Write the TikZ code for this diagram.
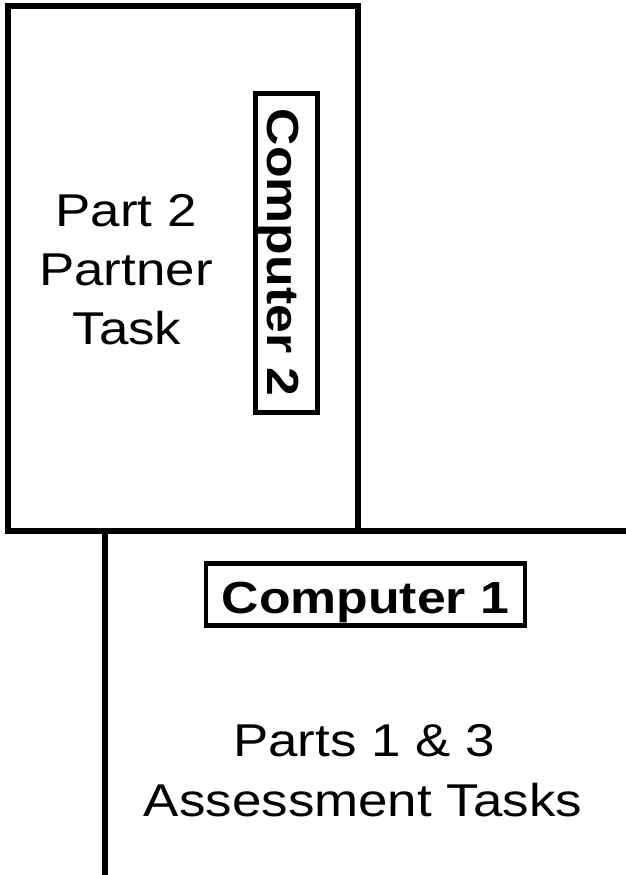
\documentclass[tikz,border=0pt]{standalone}
\usepackage{fontspec}
\newfontfamily\labfont{Liberation Sans}[FakeStretch=1.15]
\begin{document}
\begin{tikzpicture}[x=1pt,y=-1pt,
  heavy/.style={line width=6pt},
  tag/.style={draw, line width=4.5pt, minimum width=319pt, minimum height=62pt, inner sep=0pt,
    font=\labfont\bfseries\fontsize{45}{50}\selectfont, text height=38pt, text depth=0pt},
  txt/.style={font=\labfont\fontsize{46}{52}\selectfont, anchor=base, inner sep=0pt}]
\useasboundingbox (0,0) rectangle (626,875);
\draw[heavy] (8,5.7) rectangle (357.5,531);
\coordinate (RB) at (357.5,531);
\coordinate (RE) at (626,531);
\draw[heavy] (RB) -- (RE);
\coordinate (V1) at (104.5,531);
\coordinate (V2) at (104.5,875);
\draw[heavy] (V1) -- (V2);
\node[tag] (c1) at (365.5,594.5) {Computer 1};
\node[tag, rotate=-90] (c2) at (286.5,252.75) {Computer 2};
\node[txt] (p2a) at (126,226.5) {Part 2};
\node[txt] (p2b) at (126,285.5) {Partner};
\node[txt] (p2c) at (127,344.5) {Task};
\node[txt] (p13a) at (364,756.5) {Parts 1 \& 3};
\node[txt] (p13b) at (363,816.5) {Assessment Tasks};
\end{tikzpicture}
\end{document}
